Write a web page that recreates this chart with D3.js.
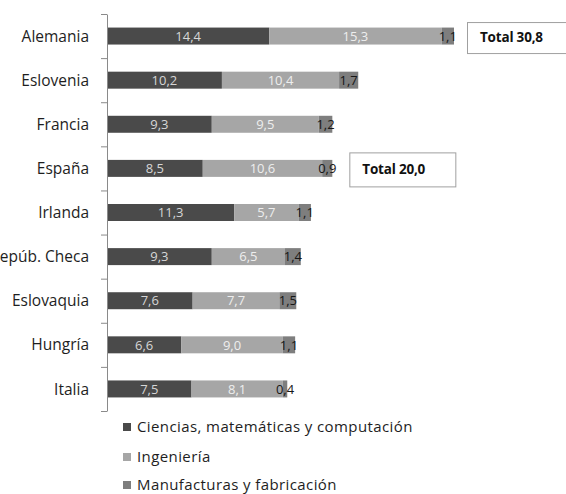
<!DOCTYPE html>
<html lang="es">
<head>
<meta charset="utf-8">
<script src="https://cdn.jsdelivr.net/npm/d3@7"></script>
<style>
  html, body { margin: 0; padding: 0; background: #fff; }
  svg { display: block; font-family: "Open Sans", sans-serif; }
</style>
</head>
<body>
<svg id="chart" width="566" height="494"></svg>
<script>
// Graduados por cada 1.000 personas de 20-29 años, por área de estudio
const countries = ["Alemania", "Eslovenia", "Francia", "España", "Irlanda",
                   "Repúb. Checa", "Eslovaquia", "Hungría", "Italia"];
const ciencias    = [14.4, 10.2, 9.3, 8.5, 11.3, 9.3, 7.6, 6.6, 7.5];
const ingenieria  = [15.3, 10.4, 9.5, 10.6, 5.7, 6.5, 7.7, 9.0, 8.1];
const manufactura = [1.1, 1.7, 1.2, 0.9, 1.1, 1.4, 1.5, 1.1, 0.4];
const seriesNames = ["Ciencias, matemáticas y computación", "Ingeniería", "Manufacturas y fabricación"];
const seriesColors = ["#4a4a4a", "#a6a6a6", "#7e7e7e"];
const labelColors  = ["#d6d6d6", "#eeeeee", "#161616"];
const totals = [
  { country: "Alemania", label: "Total 30,8", value: 30.8 },
  { country: "España",   label: "Total 20,0", value: 20.0 }
];

const fmt = v => d3.format(".1f")(v).replace(".", ",");

const svg = d3.select("#chart");
const plot = { left: 107, top: 14, bottom: 411 };

const x = d3.scaleLinear().domain([0, 30.8]).range([plot.left, 454]);
const y = d3.scaleBand().domain(countries).range([plot.top, plot.bottom])
  .paddingInner(0.615).paddingOuter(0.3075);

// stacked layout
const rows = countries.map((c, i) => ({ country: c, s0: ciencias[i], s1: ingenieria[i], s2: manufactura[i] }));
const stack = d3.stack().keys(["s0", "s1", "s2"])(rows);

stack.forEach((layer, k) => {
  svg.append("g").selectAll("rect").data(layer).join("rect")
    .attr("x", d => x(d[0]))
    .attr("y", d => y(d.data.country))
    .attr("width", d => x(d[1]) - x(d[0]))
    .attr("height", y.bandwidth())
    .attr("fill", seriesColors[k]);
});

// value labels, centred on each segment
stack.forEach((layer, k) => {
  svg.append("g").selectAll("text").data(layer).join("text")
    .attr("x", d => (x(d[0]) + x(d[1])) / 2)
    .attr("y", d => y(d.data.country) + y.bandwidth() / 2)
    .attr("dy", "0.36em")
    .attr("text-anchor", "middle")
    .attr("font-size", 13)
    .attr("fill", labelColors[k])
    .text(d => fmt(d[1] - d[0]));
});

// category axis with ticks between the bands
const edges = d3.scaleLinear().domain([0, countries.length]).range([plot.top, plot.bottom]);
const axis = svg.append("g").attr("transform", `translate(${plot.left},0)`)
  .call(d3.axisLeft(edges).tickValues(d3.range(countries.length + 1)).tickFormat("").tickSize(6).tickSizeOuter(0));
axis.select(".domain").attr("stroke", "#8a8a8a");
axis.selectAll(".tick line").attr("stroke", "#8a8a8a");

svg.append("g").selectAll("text").data(countries).join("text")
  .attr("x", 89)
  .attr("y", d => y(d) + y.bandwidth() / 2)
  .attr("dy", "0.36em")
  .attr("text-anchor", "end")
  .attr("font-size", 15.5)
  .attr("fill", "#1e1e1e")
  .text(d => d);

// total call-outs
const boxes = [
  { w: 110, h: 31, dx: 13, dy: -14 },
  { w: 106, h: 34, dx: 17, dy: -16 }
];
totals.forEach((t, i) => {
  const b = boxes[i];
  const bx = x(t.value) + b.dx;
  const cy = y(t.country) + y.bandwidth() / 2;
  const g = svg.append("g");
  g.append("rect")
    .attr("x", bx + 0.5).attr("y", cy + b.dy + 0.5)
    .attr("width", b.w).attr("height", b.h)
    .attr("fill", "#fff").attr("stroke", "#a0a0a0");
  g.append("text")
    .attr("x", bx + 13).attr("y", cy + b.dy + b.h / 2)
    .attr("dy", "0.36em")
    .attr("font-size", 13.5).attr("font-weight", "bold")
    .attr("letter-spacing", -0.2)
    .attr("fill", "#111")
    .text(t.label);
});

// legend
const legend = svg.append("g").selectAll("g").data(seriesNames).join("g")
  .attr("transform", (d, i) => `translate(123,${[427, 457, 485][i]})`);
legend.append("rect").attr("x", 0).attr("y", -4).attr("width", 8).attr("height", 8)
  .attr("fill", (d, i) => seriesColors[i]);
legend.append("text").attr("x", 14).attr("dy", "0.36em")
  .attr("font-size", 15).attr("letter-spacing", 0.4).attr("fill", "#1e1e1e")
  .text(d => d);
</script>
</body>
</html>
